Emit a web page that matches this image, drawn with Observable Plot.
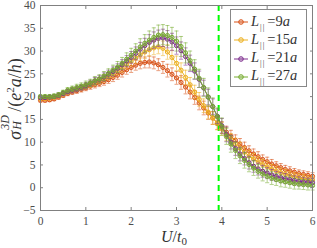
<!DOCTYPE html>
<html><head><meta charset="utf-8">
<script src="https://cdn.jsdelivr.net/npm/d3@7"></script>
<script src="https://cdn.jsdelivr.net/npm/@observablehq/plot@0.6"></script>
<style>
body{margin:0;background:#fff;}
#wrap{position:relative;width:317px;height:248px;font-family:"Liberation Serif",serif;color:#333;}
#wrap svg{display:block;}
.abs{position:absolute;white-space:nowrap;}
#legend{position:absolute;left:230px;top:9px;width:77px;height:78px;border:1px solid #888;background:#fff;box-sizing:border-box;}
.li{position:absolute;left:0;height:18px;display:flex;align-items:center;font-size:14.5px;}
.li svg{margin-left:3px;margin-right:3px;}
.sub{font-size:8px;vertical-align:-4px;margin:0 2px 0 1px;letter-spacing:1px;}
.stk{display:inline-block;position:relative;width:19px;height:1em;}
.stk span{position:absolute;left:1px;font-size:12px;font-style:italic;line-height:1;}
</style></head><body><div id="wrap"></div>
<script>
const U = [0.0,0.1,0.2,0.3,0.4,0.5,0.6,0.7,0.8,0.9,
  1.0,1.1,1.2,1.3,1.4,1.5,1.6,1.7,1.8,1.9,
  2.0,2.1,2.2,2.3,2.4,2.5,2.6,2.7,2.8,2.9,
  3.0,3.1,3.2,3.3,3.4,3.5,3.6,3.7,3.8,3.9,
  4.0,4.1,4.2,4.3,4.4,4.5,4.6,4.7,4.8,4.9,
  5.0,5.1,5.2,5.3,5.4,5.5,5.6,5.7,5.8,5.9,6.0];

const seriesNames = ["9a","15a","21a","27a"];
const seriesColors = ["#D95319","#EDB120","#7E2F8E","#77AC30"];

const sigmaL9 = [19.2,19.2,19.3,19.5,19.9,20.3,20.7,21.0,21.3,21.6,
  21.9,22.3,22.6,22.9,23.3,23.7,24.2,24.7,25.3,25.9,
  26.4,26.9,27.3,27.5,27.6,27.4,27.0,26.4,25.7,24.9,
  24.1,23.1,22.1,21.0,19.8,18.6,17.5,16.4,15.3,14.2,
  13.2,12.2,11.3,10.4,9.6,8.8,8.1,7.4,6.8,6.2,
  5.7,5.2,4.8,4.4,4.0,3.7,3.4,3.1,2.9,2.7,2.5];
const sigmaL15 = [19.6,19.6,19.7,19.9,20.2,20.6,21.0,21.3,21.6,21.9,
  22.3,22.7,23.1,23.5,24.0,24.5,25.1,25.7,26.4,27.1,
  27.8,28.5,29.2,29.8,30.3,30.7,30.9,30.6,29.8,28.6,
  27.3,25.8,24.2,22.6,21.0,19.4,18.0,16.6,15.3,14.1,
  12.9,11.7,10.6,9.6,8.7,7.8,7.0,6.3,5.7,5.1,
  4.6,4.1,3.7,3.3,3.0,2.7,2.4,2.2,2.0,1.8,1.7];
const sigmaL21 = [19.8,19.8,19.9,20.0,20.3,20.7,21.1,21.4,21.7,22.0,
  22.4,22.9,23.4,23.8,24.3,24.9,25.5,26.2,27.0,27.8,
  28.6,29.5,30.4,31.2,31.9,32.4,32.8,32.9,32.6,32.0,
  31.2,30.1,28.8,27.3,25.6,23.8,21.9,19.9,17.8,15.7,
  13.6,11.7,10.0,8.6,7.4,6.4,5.5,4.7,4.1,3.6,
  3.2,2.8,2.5,2.2,2.0,1.8,1.6,1.4,1.3,1.2,1.1];
const sigmaL27 = [20.0,20.0,20.0,20.1,20.4,20.9,21.4,21.7,22.0,22.3,
  22.6,23.0,23.5,23.9,24.5,25.1,25.8,26.5,27.3,28.2,
  29.1,30.0,30.9,31.7,32.4,33.0,33.5,33.6,33.4,33.0,
  32.2,31.0,29.6,27.9,26.0,24.0,22.0,19.9,17.8,15.6,
  13.4,11.3,9.6,8.2,7.0,6.0,5.1,4.3,3.6,3.0,
  2.5,2.1,1.8,1.5,1.3,1.1,0.9,0.8,0.7,0.6,0.5];

const errL9 = [0.4,0.4,0.4,0.4,0.5,0.5,0.5,0.5,0.6,0.6,
  0.6,0.7,0.7,0.7,0.8,0.8,0.9,0.9,1.0,1.0,
  1.1,1.1,1.2,1.2,1.3,1.3,1.3,1.3,1.4,1.4,
  1.4,1.5,1.5,1.5,1.5,1.5,1.5,1.4,1.4,1.4,
  1.3,1.3,1.3,1.2,1.2,1.2,1.1,1.1,1.1,1.0,
  1.0,1.0,0.9,0.9,0.9,0.9,0.8,0.8,0.8,0.8,0.8];
const errL15 = [0.4,0.4,0.4,0.4,0.4,0.5,0.5,0.5,0.5,0.6,
  0.6,0.7,0.7,0.7,0.8,0.8,0.9,0.9,1.0,1.0,
  1.1,1.2,1.3,1.4,1.4,1.5,1.5,1.6,1.6,1.6,
  1.6,1.6,1.6,1.6,1.5,1.5,1.5,1.5,1.4,1.4,
  1.4,1.4,1.3,1.3,1.3,1.2,1.2,1.2,1.1,1.1,
  1.1,1.0,1.0,1.0,1.0,0.9,0.9,0.9,0.9,0.8,0.8];
const errL21 = [0.4,0.4,0.4,0.4,0.5,0.5,0.5,0.6,0.6,0.6,
  0.7,0.7,0.8,0.8,0.9,0.9,1.0,1.0,1.1,1.2,
  1.3,1.4,1.5,1.6,1.7,1.8,1.8,1.9,1.9,1.9,
  1.9,1.9,1.9,1.8,1.8,1.8,1.7,1.7,1.7,1.6,
  1.6,1.6,1.5,1.5,1.5,1.4,1.4,1.3,1.3,1.3,
  1.2,1.2,1.1,1.1,1.1,1.0,1.0,1.0,0.9,0.9,0.9];
const errL27 = [0.4,0.4,0.4,0.5,0.5,0.5,0.6,0.6,0.7,0.7,
  0.8,0.8,0.9,0.9,1.0,1.0,1.1,1.2,1.3,1.4,
  1.5,1.6,1.8,1.9,2.0,2.1,2.2,2.2,2.2,2.2,
  2.2,2.2,2.2,2.1,2.1,2.0,2.0,2.0,1.9,1.9,
  1.9,1.8,1.8,1.8,1.7,1.7,1.6,1.6,1.5,1.5,
  1.4,1.4,1.3,1.3,1.2,1.2,1.2,1.1,1.1,1.1,1.0];

const xTicks = [0,1,2,3,4,5,6];
const yTicks = [-5,0,5,10,15,20,25,30,35,40];
const criticalU = [3.93];

const values = [sigmaL9, sigmaL15, sigmaL21, sigmaL27];
const errors = [errL9, errL15, errL21, errL27];

const capSymbol = {draw(ctx, size){ const w = Math.sqrt(size); ctx.moveTo(-w/2,0); ctx.lineTo(w/2,0); }};

const seriesMarks = [];
values.forEach((vals, s) => {
  const rows = U.map((u, i) => ({u, v: vals[i], lo: vals[i] - errors[s][i], hi: vals[i] + errors[s][i]}));
  const c = seriesColors[s];
  seriesMarks.push(
    Plot.ruleX(rows, {x: "u", y1: "lo", y2: "hi", stroke: c, strokeOpacity: 0.55, strokeWidth: 1}),
    Plot.dot(rows, {x: "u", y: "lo", symbol: capSymbol, r: 2.3, stroke: c, strokeOpacity: 0.55, fill: "none", strokeWidth: 1}),
    Plot.dot(rows, {x: "u", y: "hi", symbol: capSymbol, r: 2.3, stroke: c, strokeOpacity: 0.55, fill: "none", strokeWidth: 1}),
    Plot.line(rows, {x: "u", y: "v", stroke: c, strokeWidth: 1}),
    Plot.dot(rows, {x: "u", y: "v", r: 2.1, stroke: c, fill: c, fillOpacity: 0.25, strokeWidth: 1})
  );
});

const axisColor = "#808080";
const chart = Plot.plot({
  width: 317, height: 248,
  marginLeft: 40, marginRight: 5, marginTop: 5, marginBottom: 38,
  style: {fontFamily: "Liberation Serif, serif", fontSize: "11.5px", color: "#4d4d4d", background: "#fff"},
  x: {domain: [0, 6]},
  y: {domain: [-5, 40]},
  marks: [
    Plot.ruleX(criticalU, {stroke: "#00ff00", strokeWidth: 2, strokeDasharray: "6,4"}),
    ...seriesMarks,
    Plot.frame({stroke: axisColor}),
    Plot.axisX(xTicks, {anchor: "bottom", tickSize: -3, tickPadding: 9, label: null, stroke: axisColor}),
    Plot.axisX(xTicks, {anchor: "top", tickSize: -3, tickFormat: () => "", label: null, stroke: axisColor}),
    Plot.axisY(yTicks, {anchor: "left", tickSize: -3, tickPadding: 8, label: null, stroke: axisColor}),
    Plot.axisY(yTicks, {anchor: "right", tickSize: -3, tickFormat: () => "", label: null, stroke: axisColor})
  ]
});
const wrap = document.getElementById("wrap");
wrap.appendChild(chart);

// axis labels
const xl = document.createElement("div");
xl.className = "abs";
xl.style.cssText = "left:174px;top:237px;transform:translate(-50%,-50%);font-size:16px;";
xl.innerHTML = "<i>U</i>/<i>t</i><span style='font-size:11px;vertical-align:-3px'>0</span>";
wrap.appendChild(xl);

const yl = document.createElement("div");
yl.className = "abs";
yl.style.cssText = "left:13px;top:99px;transform:translate(-50%,-50%) rotate(-90deg);font-size:18px;line-height:1;";
yl.innerHTML = "<i>σ</i><span class='stk'><span style='top:-4px'>3D</span><span style='top:8px'>H</span></span>/(<i>e</i><sup style='font-size:11px'>2</sup><i>a</i>/<i>h</i>)";
wrap.appendChild(yl);

// legend
const lg = document.createElement("div");
lg.id = "legend";
seriesNames.forEach((n, i) => {
  const row = document.createElement("div");
  row.className = "li";
  row.style.top = (3 + i * 18.3) + "px";
  row.innerHTML = `<svg width="14" height="8"><line x1="0" y1="4" x2="14" y2="4" stroke="${seriesColors[i]}" stroke-width="1"/><circle cx="7" cy="4" r="2.3" fill="${seriesColors[i]}" fill-opacity="0.25" stroke="${seriesColors[i]}"/></svg><span><i>L</i><span class="sub">||</span>=${n.replace("a","")}<i>a</i></span>`;
  lg.appendChild(row);
});
wrap.appendChild(lg);
</script>
</body></html>
